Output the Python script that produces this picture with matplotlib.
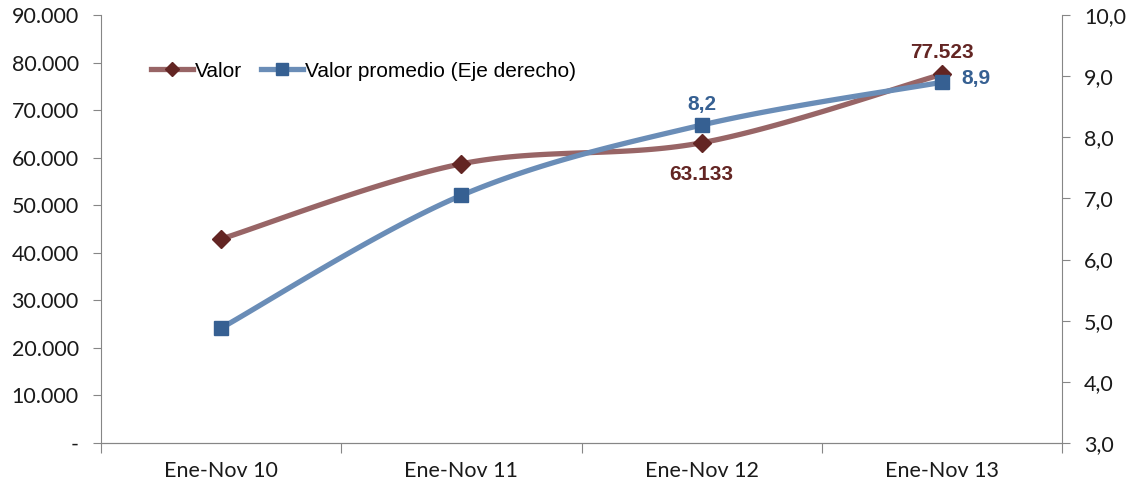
import numpy as np
import matplotlib
matplotlib.use("Agg")
import matplotlib.pyplot as plt
from matplotlib.ticker import FuncFormatter
from matplotlib.lines import Line2D

categories = ["Ene-Nov 10", "Ene-Nov 11", "Ene-Nov 12", "Ene-Nov 13"]
valor = [42900, 58700, 63133, 77523]
promedio = [4.88, 7.05, 8.2, 8.9]
left_ticks = [0, 10000, 20000, 30000, 40000, 50000, 60000, 70000, 80000, 90000]
right_ticks = [3, 4, 5, 6, 7, 8, 9, 10]

def smooth(xs, ys, n=40):
    xs = np.asarray(xs, float); ys = np.asarray(ys, float)
    P = np.column_stack([xs, ys])
    out = []
    for i in range(len(P) - 1):
        p0 = P[i - 1] if i > 0 else P[i]
        p1 = P[i]; p2 = P[i + 1]
        p3 = P[i + 2] if i + 2 < len(P) else P[i + 1]
        c1 = p1 + (p2 - p0) / 6
        c2 = p2 - (p3 - p1) / 6
        t = np.linspace(0, 1, n)[:, None]
        seg = (1 - t) ** 3 * p1 + 3 * (1 - t) ** 2 * t * c1 + 3 * (1 - t) * t ** 2 * c2 + t ** 3 * p2
        out.append(seg if i == 0 else seg[1:])
    s = np.vstack(out)
    return s[:, 0], s[:, 1]

plt.rcParams['font.family'] = ['Liberation Sans', 'DejaVu Sans']
fig = plt.figure(figsize=(11.36, 4.91), dpi=100)
ax = fig.add_axes([101/1136, 1-443/491, (1062-101)/1136, (443-15)/491])
ax2 = ax.twinx()

x = np.arange(len(categories))
c_valor_line = "#986566"
c_valor_mk = "#632523"
c_prom_line = "#6a8db7"
c_prom_mk = "#366092"

sx, sy = smooth(x, valor)
ax.plot(sx, sy, color=c_valor_line, lw=3.8, solid_capstyle='round', zorder=3)
ax.plot(x, valor, linestyle='none', marker='D', ms=9, color=c_valor_mk, zorder=4)

px, py = smooth(x, promedio)
ax2.plot(px, py, color=c_prom_line, lw=3.8, solid_capstyle='round', zorder=3)
ax2.plot(x, promedio, linestyle='none', marker='s', ms=10, color=c_prom_mk, zorder=4)

ax.set_xlim(-0.5, len(categories) - 0.5)
ax.set_ylim(0, 90000)
ax2.set_ylim(3, 10)
ax.set_yticks(left_ticks)
ax2.set_yticks(right_ticks)

def lfmt(v, pos):
    if v == 0:
        return "-"
    return f"{int(v):,}".replace(",", ".")
ax.yaxis.set_major_formatter(FuncFormatter(lfmt))
ax2.yaxis.set_major_formatter(FuncFormatter(lambda v, p: f"{v:.1f}".replace(".", ",")))

ax.set_xticks(np.arange(-0.5, len(categories), 1.0))
ax.set_xticklabels([])
ax.set_xticks(x, minor=True)
ax.set_xticklabels(categories, minor=True)

gray = "#868686"
for a in (ax, ax2):
    for s in a.spines.values():
        s.set_color(gray)
    a.spines['top'].set_visible(False)
ax.spines['right'].set_visible(False)
ax2.spines['left'].set_visible(False)
ax.tick_params(axis='x', which='major', length=7, color=gray, direction='out')
ax.tick_params(axis='x', which='minor', length=0, pad=13, labelsize=15.5)
ax.tick_params(axis='y', length=6, color=gray, labelsize=15.5, pad=10)
ax2.tick_params(axis='y', length=6, color=gray, labelsize=15.5, pad=10)
for lab in ax.get_yticklabels() + ax2.get_yticklabels() + ax.get_xticklabels(minor=True):
    lab.set_fontfamily(['Lato', 'DejaVu Sans'])
    lab.set_color('#1a1a1a')

# data labels
bold = dict(fontsize=15, fontweight='bold')
ax.annotate("63.133", (x[2], valor[2]), xytext=(0, -30), textcoords='offset points',
            ha='center', va='bottom', color=c_valor_mk, **bold)
ax.annotate("77.523", (x[3], valor[3]), xytext=(0, 9), textcoords='offset points',
            ha='center', va='bottom', color=c_valor_mk, **bold)
ax2.annotate("8,2", (x[2], promedio[2]), xytext=(0, 8), textcoords='offset points',
             ha='center', va='bottom', color=c_prom_mk, **bold)
ax2.annotate("8,9", (x[3], promedio[3]), xytext=(14, 3), textcoords='offset points',
             ha='left', va='center', color=c_prom_mk, **bold)

# legend
h1 = Line2D([], [], color=c_valor_line, lw=3.8, marker='D', ms=7, markerfacecolor=c_valor_mk, markeredgecolor=c_valor_mk)
h2 = Line2D([], [], color=c_prom_line, lw=3.8, marker='s', ms=8, markerfacecolor=c_prom_mk, markeredgecolor=c_prom_mk)
ax2.legend([h1, h2], ["Valor", "Valor promedio (Eje derecho)"], loc='upper left',
           bbox_to_anchor=(0.033, 0.935), ncol=2, frameon=False, fontsize=15,
           handlelength=2.0, handletextpad=0.1, columnspacing=0.9)

fig.savefig("out.png", dpi=100)
